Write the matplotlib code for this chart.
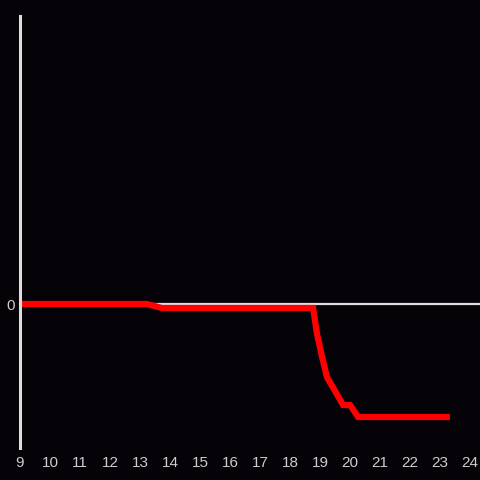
import matplotlib
matplotlib.use("Agg")
import matplotlib.pyplot as plt

hours = [9, 13.23, 13.73, 18.77, 18.9, 19.07, 19.23, 19.77, 20.0, 20.27, 23.33]
values = [0, 0, -4, -4, -30, -53, -73, -101, -101, -113, -113]
xticks = list(range(9, 25))

bg = "#050307"
fig = plt.figure(figsize=(4.8, 4.8), dpi=100, facecolor=bg)
ax = fig.add_axes([20 / 480, 1 - 448 / 480, 460 / 480, 432 / 480], facecolor=bg)

ax.axhline(0, color="#dddddd", lw=1.6, zorder=1)
ax.plot(hours, values, color="#ff0000", lw=4.5, solid_joinstyle="miter",
        solid_capstyle="butt", zorder=2)

ax.set_xlim(9, 9 + 460 / 30)
ax.set_ylim(-144, 288)
ax.set_xticks(xticks)
ax.set_yticks([0])
ax.tick_params(length=0, colors="#cccccc", labelsize=11)
ax.tick_params(axis="x", pad=6)
ax.tick_params(axis="y", pad=4)
for lbl in ax.get_xticklabels() + ax.get_yticklabels():
    lbl.set_family("Liberation Sans")

for s in ["top", "right", "bottom"]:
    ax.spines[s].set_visible(False)
ax.spines["left"].set_color("#dddddd")
ax.spines["left"].set_linewidth(2.2)

fig.savefig("out.png", dpi=100, facecolor=bg)
